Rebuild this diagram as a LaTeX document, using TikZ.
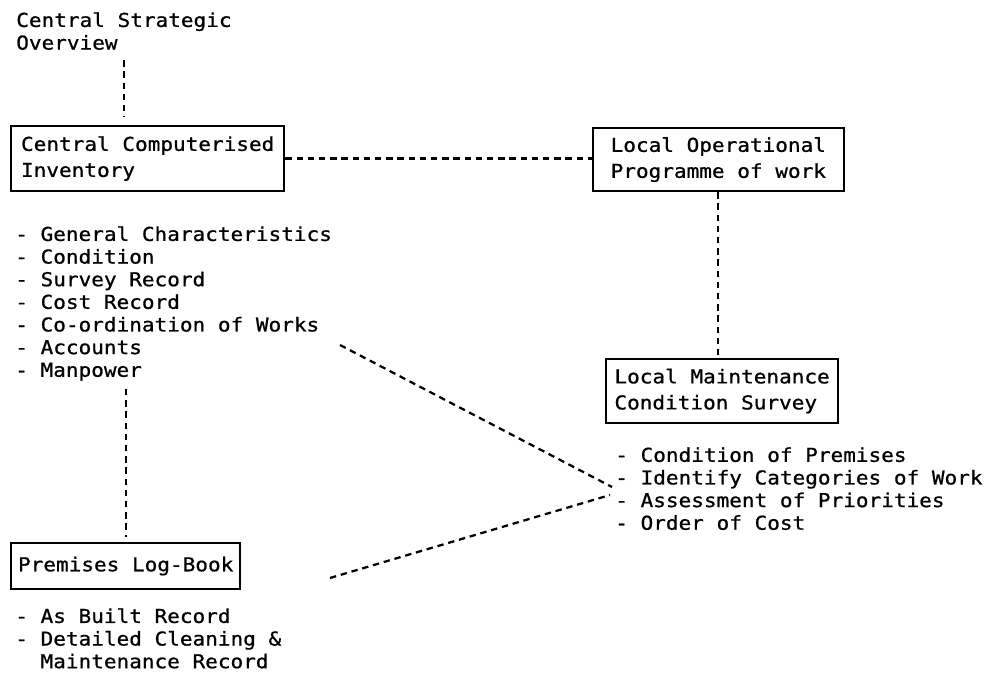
\documentclass[tikz,border=0pt]{standalone}
\usepackage{fontspec}
\newfontfamily\typefont[FakeStretch=1.1,FakeBold=0.8]{DejaVu Sans Mono}
\usepackage{tikz}
\usetikzlibrary{positioning}

\begin{document}
\begin{tikzpicture}[
    x=0.025cm, y=-0.025cm,
    box/.style={rectangle, draw, line width=1.5pt, anchor=north west, inner ysep=0pt, align=left, font=\typefont\fontsize{13.6}{18.5}\selectfont},
    plain/.style={anchor=north west, inner sep=0pt, align=left, font=\typefont\fontsize{13.6}{16.1}\selectfont},
    link/.style={line width=1.6pt, dash pattern=on 0.16cm off 0.12cm}
]
\useasboundingbox (0,0) rectangle (994,679);

% Central level
\node[plain] (overview) at (16,12) {Central Strategic\\Overview};
\node[box, inner xsep=0.25cm, minimum height=1.625cm] (inventory) at (10,125) {Central Computerised\\Inventory};
\node[plain] (invlist) at (15,226) {- General Characteristics\\- Condition\\- Survey Record\\- Cost Record\\- Co-ordination of Works\\- Accounts\\- Manpower};

% Local level
\node[box, inner xsep=0.44cm, minimum height=1.575cm] (programme) at (592,127) {Local Operational\\Programme of work};
\node[box, inner xsep=0.21cm, minimum height=1.6cm] (survey) at (605,358) {Local Maintenance\\Condition Survey};
\node[plain] (surveylist) at (615,447) {- Condition of Premises\\- Identify Categories of Work\\- Assessment of Priorities\\- Order of Cost};

% Log-book
\node[box, inner xsep=0.175cm, minimum height=1.15cm] (logbook) at (10,542) {Premises Log-Book};
\node[plain] (loglist) at (15,608) {- As Built Record\\- Detailed Cleaning \&\\\hphantom{- }Maintenance Record};

% free ends of the cross links
\coordinate (works) at (340,345);
\coordinate (identify) at (612,487);
\coordinate (logfree) at (330,578);
\coordinate (priorities) at (610,495);

% Links
\draw[link, shorten <=0.25cm, shorten >=0.2cm] (overview.south) -- (overview.south |- inventory.north);
\draw[link] (inventory.east) -- (inventory.east -| programme.west);
\draw[link] (programme.south) -- (programme.south |- survey.north);
\draw[link, shorten <=0.2cm, shorten >=0.12cm] (invlist.south -| logbook.north) -- (logbook.north);
\draw[link] (works) -- (identify);
\draw[link] (logfree) -- (priorities);

\end{tikzpicture}
\end{document}
